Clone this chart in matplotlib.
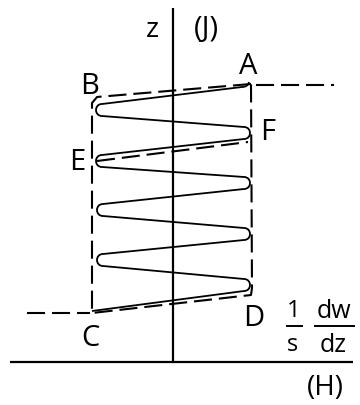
import matplotlib
matplotlib.use("Agg")
import matplotlib.pyplot as plt
from matplotlib.path import Path
from matplotlib.patches import PathPatch

plt.rcParams['lines.scale_dashes'] = False
plt.rcParams['font.family'] = ['Open Sans', 'DejaVu Sans']

# ---- data (diagram coordinates, image-like units) ----
point_labels = ['A', 'B', 'C', 'D', 'E', 'F']
label_x = [248, 90, 90, 254, 77, 268]
label_y = [66, 86, 338, 318, 163, 133]

# hysteresis zigzag: start A, alternating tips, end at C
start_pt = (249, 82)
tip_x = [96, 250, 96, 250, 97, 250, 97, 250]
tip_y = [110, 133, 161, 183, 210, 234, 260, 285]
end_pt = (92, 311)
tip_r = 6

# dashed envelope A-B-C-D
env_x = [251, 97, 92, 92, 251, 252, 251]
env_y = [84, 97, 103, 313, 295, 288, 84]
ef_x = [97, 248]
ef_y = [161, 142]
ext_top_x = [256, 334]
ext_top_y = [85, 85]
ext_bot_x = [27, 90]
ext_bot_y = [313, 313]

axis_v_x = [173, 173]
axis_v_y = [8, 362]
axis_h_x = [10, 353]
axis_h_y = [362, 362]

fig = plt.figure(figsize=(3.6, 4.05), dpi=100)
ax = fig.add_axes([0, 0, 1, 1])
ax.set_xlim(0, 360)
ax.set_ylim(405, 0)
ax.axis('off')

lw_axis = 1.6
ax.plot(axis_v_x, axis_v_y, color='black', lw=lw_axis, solid_capstyle='butt')
ax.plot(axis_h_x, axis_h_y, color='black', lw=lw_axis, solid_capstyle='butt')

dash = (0, (13, 5))
for xs, ys in [(env_x, env_y), (ef_x, ef_y), (ext_top_x, ext_top_y), (ext_bot_x, ext_bot_y)]:
    ax.plot(xs, ys, color='black', lw=1.5, linestyle=dash)

# zigzag curve with rounded tips
verts = [start_pt, (248, 87), (242, 87)]
codes = [Path.MOVETO, Path.CURVE3, Path.CURVE3]
for i, (xe, yc) in enumerate(zip(tip_x, tip_y)):
    side = -1 if i % 2 == 0 else 1
    xc = xe - side * tip_r
    k = 4.0 / 3.0 * tip_r
    verts += [(xc, yc - tip_r), (xc + side * k, yc - tip_r), (xc + side * k, yc + tip_r), (xc, yc + tip_r)]
    codes += [Path.LINETO, Path.CURVE4, Path.CURVE4, Path.CURVE4]
verts += [end_pt]
codes += [Path.LINETO]
ax.add_patch(PathPatch(Path(verts, codes), facecolor='none', edgecolor='black', lw=1.3))

for t, x, y in zip(point_labels, label_x, label_y):
    ax.text(x, y, t, fontsize=21, ha='center', va='center')

ax.text(152, 30, 'z', fontsize=20, ha='center', va='center')
ax.text(206, 30, '(J)', fontsize=21, ha='center', va='center')
ax.text(325, 388, '(H)', fontsize=20, ha='center', va='center')

# 1/s dw/dz
ax.text(294, 311, '1', fontsize=17, ha='center', va='center')
ax.text(293, 345, 's', fontsize=17, ha='center', va='center')
ax.text(334, 311, 'dw', fontsize=18, ha='center', va='center')
ax.text(333, 345, 'dz', fontsize=18, ha='center', va='center')
ax.plot([287, 302], [326, 326], color='black', lw=1.4)
ax.plot([315, 354], [326, 326], color='black', lw=1.4)

fig.savefig('out.png', dpi=100)
